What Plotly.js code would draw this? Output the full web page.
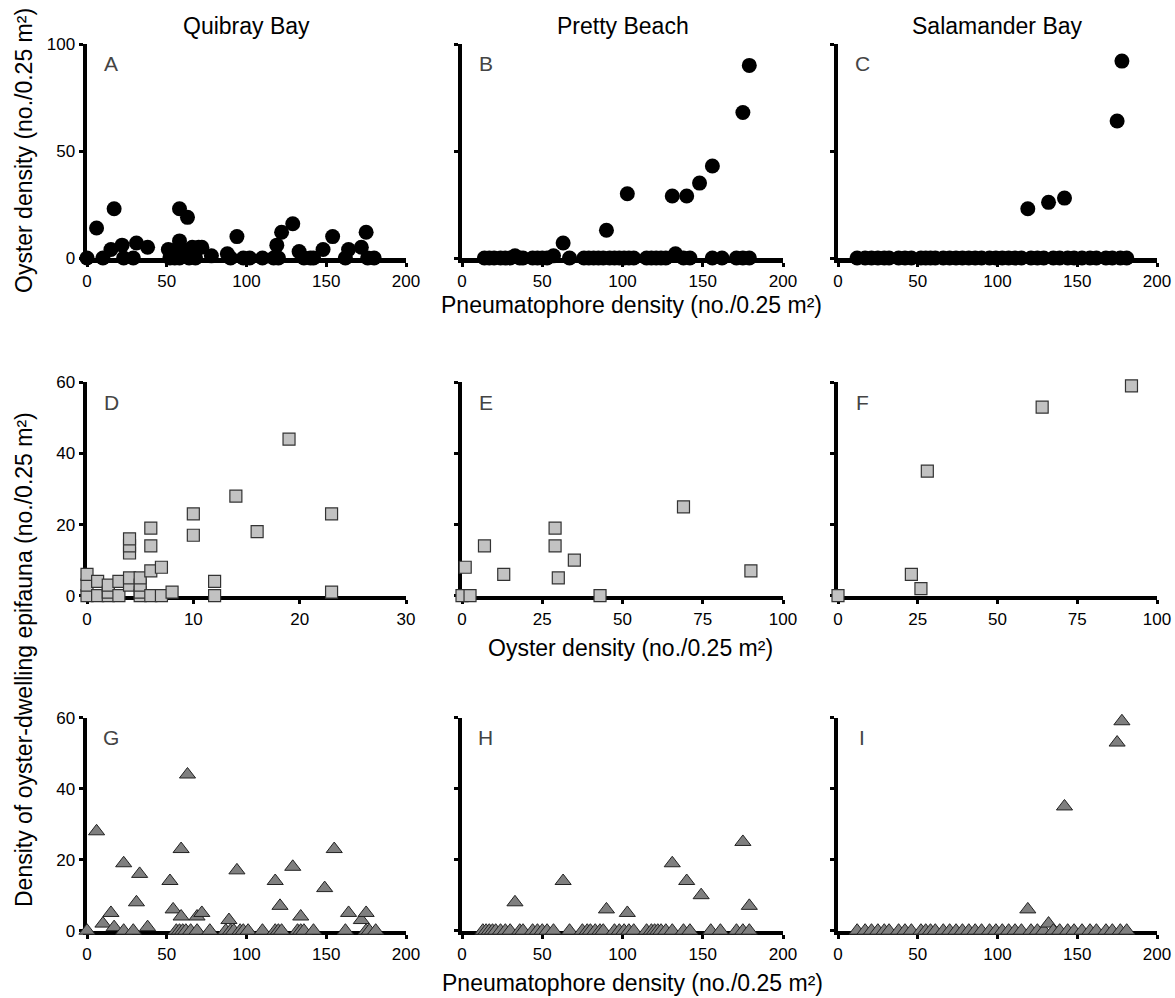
<!DOCTYPE html>
<html>
<head>
<meta charset="utf-8">
<script src="https://cdn.plot.ly/plotly-3.0.1.min.js"></script>
<style>html,body{margin:0;padding:0;background:#fff}#chart{width:1175px;height:998px}</style>
</head>
<body>
<div id="chart"></div>
<script>
// ---------------- DATA ----------------
const siteNames = ["Quibray Bay", "Pretty Beach", "Salamander Bay"];
const panelLetters = ["A","B","C","D","E","F","G","H","I"];

// Row 1: oyster density vs pneumatophore density
const aPneu   = [0,6,10,15,17,22,23,29,31,38,51,52,55,56,58,58,58,60,63,64,66,68,70,72,78,88,90,94,98,102,110,117,119,120,122,129,133,136,140,142,148,154,162,164,172,175,176,180];
const aOyster = [0,14,0,4,23,6,0,0,7,5,4,0,0,4,23,8,0,4,19,0,5,0,5,5,1,2,0,10,0,0,0,0,6,0,12,16,3,0,0,0,4,10,0,4,5,12,0,0];

const bPneu   = [14,17,20,24,27,30,33,36,38,44,47,50,53,57,63,67,76,79,82,85,88,90,92,95,98,101,103,104,107,115,118,121,124,127,131,133,138,140,142,148,156,156,162,171,175,175,179,179];
const bOyster = [0,0,0,0,0,0,1,0,0,0,0,0,0,1,7,0,0,0,0,0,0,13,0,0,0,0,30,0,0,0,0,0,0,0,29,2,0,29,0,35,43,0,0,0,68,0,90,0];

const cPneu   = [12,17,21,25,29,32,38,42,46,52,55,58,61,66,70,74,78,82,86,90,95,99,103,107,111,115,119,121,125,129,132,135,139,142,144,148,153,158,162,168,172,175,177,178,181];
const cOyster = [0,0,0,0,0,0,0,0,0,0,0,0,0,0,0,0,0,0,0,0,0,0,0,0,0,0,23,0,0,0,26,0,0,28,0,0,0,0,0,0,0,64,0,92,0];

// Row 2: epifauna density vs oyster density
const dOyster = [0,0,0,1,1,2,2,2,3,3,4,4,4,4,4,5,5,5,5,6,6,6,6,7,7,8,10,10,12,12,14,16,19,23,23];
const dEpi    = [0,3,6,0,4,0,1,3,0,4,3,5,12,14,16,0,1,3,5,0,7,14,19,0,8,1,17,23,0,4,28,18,44,1,23];

const eOyster = [0,1,2.5,7,13,29,29,30,35,43,69,90];
const eEpi    = [0,8,0,14,6,14,19,5,10,0,25,7];

const fOyster = [0,23,26,28,64,92];
const fEpi    = [0,6,2,35,53,59];

// Row 3: epifauna density vs pneumatophore density
const gPneu = [0,6,10,15,17,23,23,29,31,33,38,52,54,56,58,59,59,60,62,63,65,69,69,72,77,87,89,90,92,94,96,98,101,110,118,118,120,121,122,129,132,134,134,136,142,149,155,162,164,172,175,175,177,181];
const gEpi  = [0,28,2,5,1,19,0,0,8,16,1,14,6,0,0,4,23,0,0,44,0,4,0,5,0,0,3,0,0,17,0,0,0,0,14,0,0,7,0,18,0,4,0,0,0,12,23,0,5,3,5,0,0,0];

const hPneu = [13,15,17,19,21,24,27,30,33,36,38,44,47,50,53,57,63,67,75,78,80,83,86,88,90,95,98,101,103,104,107,115,118,120,122,124,127,131,131,138,140,142,149,155,161,171,175,175,179,179];
const hEpi  = [0,0,0,0,0,0,0,0,8,0,0,0,0,0,0,0,14,0,0,0,0,0,0,0,6,0,0,0,5,0,0,0,0,0,0,0,0,19,0,0,14,0,10,0,0,0,25,0,7,0];

const iPneu = [12,17,21,25,29,32,38,42,46,52,55,58,61,66,70,74,78,82,86,90,95,99,103,107,111,115,119,121,125,129,132,135,139,142,144,148,153,158,162,168,172,175,177,178,181];
const iEpi  = [0,0,0,0,0,0,0,0,0,0,0,0,0,0,0,0,0,0,0,0,0,0,0,0,0,0,6,0,0,0,2,0,0,35,0,0,0,0,0,0,0,53,0,59,0];

const row1Ticks = [0, 50, 100];
const row23Ticks = [0, 20, 40, 60];
const pneuTicks = [0, 50, 100, 150, 200];
const dTicks = [0, 10, 20, 30];
const efTicks = [0, 25, 50, 75, 100];
const row2XMax  = [30, 100, 100];

const pneuTitle = "Pneumatophore density (no./0.25 m²)";
const oysterTitle = "Oyster density (no./0.25 m²)";
const epiTitle = "Density of oyster-dwelling epifauna (no./0.25 m²)";

// ---------------- LAYOUT ----------------
const W = 1175, H = 998;
const px = v => v / W;
const py = v => 1 - v / H;
const FONT = "Liberation Sans, Arial, Helvetica, sans-serif";

const colPx = [[87, 406], [462, 783], [838, 1157]];
const rowPx = [[44, 258], [382.3, 595.7], [717.7, 930.7]];

const panels = [
  {x: aPneu, y: aOyster, row: 0}, {x: bPneu, y: bOyster, row: 0}, {x: cPneu, y: cOyster, row: 0},
  {x: dOyster, y: dEpi, row: 1}, {x: eOyster, y: eEpi, row: 1}, {x: fOyster, y: fEpi, row: 1},
  {x: gPneu, y: gEpi, row: 2}, {x: hPneu, y: hEpi, row: 2}, {x: iPneu, y: iEpi, row: 2}
];

const markerStyles = [
  {symbol: "circle", size: 15, color: "#000000", line: {color: "#000000", width: 0}},
  {symbol: "square", size: 12, color: "#c2c2c2", line: {color: "#333333", width: 1.2}},
  {symbol: "triangle-up", size: 14, color: "#7f7f7f", line: {color: "#222222", width: 1}}
];

const traces = [];
const layout = {
  width: W, height: H,
  margin: {l: 0, r: 0, t: 0, b: 0},
  paper_bgcolor: "#ffffff", plot_bgcolor: "rgba(0,0,0,0)",
  showlegend: false,
  font: {family: FONT, size: 17, color: "#000"},
  annotations: []
};

panels.forEach((p, i) => {
  const col = i % 3, row = p.row;
  const k = i === 0 ? "" : String(i + 1);
  traces.push({
    type: "scatter", mode: "markers",
    x: p.x, y: p.y,
    xaxis: "x" + k, yaxis: "y" + k,
    marker: markerStyles[row],
    cliponaxis: false, hoverinfo: "x+y"
  });
  let xr, xt;
  if (row === 1) { xr = [0, row2XMax[col]]; xt = col === 0 ? dTicks : efTicks; }
  else { xr = [0, 200]; xt = pneuTicks; }
  const yr = row === 0 ? [0, 100] : [0, 60];
  const yt = row === 0 ? row1Ticks : row23Ticks;
  const common = {
    showline: true, linecolor: "#000", linewidth: 4.5,
    showgrid: false, zeroline: false,
    ticks: "outside", ticklen: 4, tickwidth: 3, tickcolor: "#000",
    tickmode: "array", layer: "below traces",
    tickfont: {family: FONT, size: 17, color: "#000"},
    fixedrange: true
  };
  layout["xaxis" + k] = Object.assign({}, common, {
    domain: [px(colPx[col][0]), px(colPx[col][1])],
    range: xr, tickvals: xt, ticktext: xt.map(String),
    anchor: "y" + k
  });
  layout["yaxis" + k] = Object.assign({}, common, {
    domain: [py(rowPx[row][1]), py(rowPx[row][0])],
    range: yr, tickvals: yt, ticktext: yt.map(String),
    showticklabels: col === 0,
    anchor: "x" + k
  });
  layout.annotations.push({
    xref: "paper", yref: "paper",
    x: px(colPx[col][0] + 24), y: py(rowPx[row][0] + 20),
    xanchor: "center", yanchor: "middle", showarrow: false,
    text: panelLetters[i], font: {family: FONT, size: 21, color: "#444"}
  });
});

siteNames.forEach((s, c) => {
  layout.annotations.push({
    xref: "paper", yref: "paper",
    x: px((colPx[c][0] + colPx[c][1]) / 2), y: py(26),
    xanchor: "center", yanchor: "middle", showarrow: false,
    text: s, font: {family: FONT, size: 23, color: "#000"}
  });
});

const axisTitles = [
  {text: pneuTitle, x: 631, y: 305, angle: 0},
  {text: oysterTitle, x: 630, y: 648, angle: 0},
  {text: pneuTitle, x: 632, y: 983, angle: 0},
  {text: oysterTitle, x: 24, y: 151, angle: -90},
  {text: epiTitle, x: 24, y: 660, angle: -90}
];
axisTitles.forEach(t => {
  layout.annotations.push({
    xref: "paper", yref: "paper", x: px(t.x), y: py(t.y),
    xanchor: "center", yanchor: "middle", showarrow: false,
    textangle: t.angle, text: t.text,
    font: {family: FONT, size: 23, color: "#000"}
  });
});

Plotly.newPlot("chart", traces, layout, {displayModeBar: false, staticPlot: true});
</script>
</body>
</html>
